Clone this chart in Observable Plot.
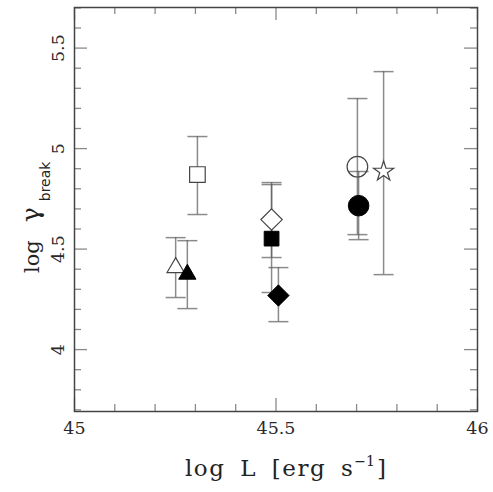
<!DOCTYPE html>
<html><head><meta charset="utf-8">
<script src="https://cdn.jsdelivr.net/npm/d3@7"></script>
<script src="https://cdn.jsdelivr.net/npm/@observablehq/plot@0.6"></script>
<style>body{margin:0;background:#fff;} svg{display:block;}</style>
</head><body><div id="chart"></div>
<script>
// ---- data ----
const sources   = ["open square","open triangle","filled triangle","open diamond","filled square","filled diamond","open circle","filled circle","star"];
const logL      = [45.305, 45.251, 45.280, 45.489, 45.489, 45.506, 45.702, 45.705, 45.767];
const logGamma  = [4.871, 4.408, 4.375, 4.647, 4.552, 4.269, 4.910, 4.716, 4.886];
const gammaLow  = [4.672, 4.259, 4.204, 4.458, 4.284, 4.139, 4.572, 4.547, 4.373];
const gammaHigh = [5.060, 4.557, 4.542, 4.831, 4.821, 4.408, 5.249, 4.886, 5.383];
const symbols   = ["square","triangle","triangle","diamond2","square","diamond2","circle","circle","star"];
const filled    = [false, false, true, false, true, true, false, true, false];

const xMajorTicks = [45, 45.5, 46];
const xMinorTicks = [45.1, 45.2, 45.3, 45.4, 45.6, 45.7, 45.8, 45.9];
const yMajorTicks = [4, 4.5, 5, 5.5];
const yMinorTicks = [3.7, 3.8, 3.9, 4.1, 4.2, 4.3, 4.4, 4.6, 4.7, 4.8, 4.9, 5.1, 5.2, 5.3, 5.4, 5.6, 5.7];
const xTickLabels = ["45", "45.5", "46"];
const yTickLabels = ["4", "4.5", "5", "5.5"];

// ---- layout ----
const W = 493, H = 492, mL = 74, mR = 16, mT = 7, mB = 81;
const fw = W - mL - mR, fh = H - mT - mB;
const serif = "'DejaVu Serif','Liberation Serif',serif";
const sans = "'DejaVu Sans','Liberation Sans',sans-serif";

const data = sources.map((s, i) => ({s, x: logL[i], y: logGamma[i], lo: gammaLow[i], hi: gammaHigh[i], sym: symbols[i], filled: filled[i]}));
const rBySym = {square: 8.8, triangle: 6.4, diamond2: 9.6, circle: 10.3, star: 6.3};
const cap = {draw(ctx, size) { const w = Math.sqrt(size / Math.PI); ctx.moveTo(-w, 0); ctx.lineTo(w, 0); }};
const tk = {stroke: "#8a8a8a", strokeWidth: 1.3};
const bar = {stroke: "#5a5a5a", strokeOpacity: 0.7, strokeWidth: 1.5};

const pointMarks = data.map(d => Plot.dot([d], {
  x: "x", y: "y", symbol: d.sym, r: d.sym === "square" && d.filled ? 8.3 : rBySym[d.sym],
  fill: d.filled ? "#000" : (d.sym === "circle" ? "none" : "#fff"),
  stroke: d.filled ? "#000" : "#444", strokeWidth: d.filled ? 1 : 1.2
}));

const chart = Plot.plot({
  width: W, height: H, marginLeft: mL, marginRight: mR, marginTop: mT, marginBottom: mB,
  x: {domain: [45, 46], axis: null},
  y: {domain: [3.692, 5.702], axis: null},
  marks: [
    // inward ticks, all four sides
    Plot.tickX(xMajorTicks, {x: d => d, insetTop: fh - 13, ...tk}),
    Plot.tickX(xMajorTicks, {x: d => d, insetBottom: fh - 13, ...tk}),
    Plot.tickX(xMinorTicks, {x: d => d, insetTop: fh - 7, ...tk}),
    Plot.tickX(xMinorTicks, {x: d => d, insetBottom: fh - 7, ...tk}),
    Plot.tickY(yMajorTicks, {y: d => d, insetRight: fw - 13, ...tk}),
    Plot.tickY(yMajorTicks, {y: d => d, insetLeft: fw - 13, ...tk}),
    Plot.tickY(yMinorTicks, {y: d => d, insetRight: fw - 7, ...tk}),
    Plot.tickY(yMinorTicks, {y: d => d, insetLeft: fw - 7, ...tk}),
    // tick labels
    Plot.text(xMajorTicks, {x: d => d, text: (d, i) => xTickLabels[i], frameAnchor: "bottom", dy: 17, lineAnchor: "middle", fontFamily: serif, fontSize: 17.5, fill: "#2a2a2a"}),
    Plot.text(yMajorTicks, {y: d => d, text: (d, i) => yTickLabels[i], frameAnchor: "left", dx: -16.5, rotate: -90, lineAnchor: "middle", textAnchor: "middle", fontFamily: serif, fontSize: 17.5, fill: "#2a2a2a"}),
    // error bars
    Plot.ruleX(data, {x: "x", y1: "lo", y2: "hi", ...bar}),
    Plot.dot(data, {x: "x", y: "lo", symbol: cap, r: 10, fill: "none", ...bar}),
    Plot.dot(data, {x: "x", y: "hi", symbol: cap, r: 10, fill: "none", ...bar}),
    // points
    ...pointMarks,
    Plot.frame({stroke: "#444", strokeWidth: 1.5})
  ]
});

const svg = d3.select(chart);
// x axis title: log L [erg s^-1]
const xl = svg.append("text").attr("x", 185).attr("y", 476).attr("text-anchor", "start")
  .attr("font-family", serif).attr("font-size", 23).attr("fill", "#222")
  .attr("letter-spacing", 1.5).attr("word-spacing", 6);
xl.append("tspan").text("log L [erg s");
xl.append("tspan").attr("dy", -10).attr("font-size", 14).attr("letter-spacing", 0).text("−1");
xl.append("tspan").attr("dy", 10).attr("dx", 2).text("]");
// y axis title: log gamma_break (rotated)
const yl = svg.append("text").attr("transform", "translate(39, 273) rotate(-90)").attr("text-anchor", "start")
  .attr("font-family", serif).attr("font-size", 21).attr("fill", "#222");
yl.append("tspan").text("log");
yl.append("tspan").attr("dx", 18).attr("font-size", 25).text("γ");
yl.append("tspan").attr("dx", 6).attr("dy", 11).attr("font-size", 14).attr("font-family", sans).text("break");

document.getElementById("chart").append(chart);
</script>
</body></html>
